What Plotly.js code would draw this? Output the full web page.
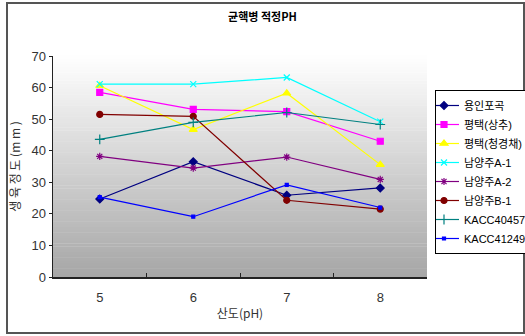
<!DOCTYPE html>
<html>
<head>
<meta charset="utf-8">
<script src="https://cdn.plot.ly/plotly-3.0.1.min.js"></script>
<style>
  html, body { margin: 0; padding: 0; background: #fff; }
  #chart { width: 525px; height: 336px; }
</style>
</head>
<body>
<div id="chart"></div>
<script>
// ---- data ----
const phLevels = ['5', '6', '7', '8'];
const seriesNames = ['용인포곡', '평택(상추)', '평택(청경채)', '남양주A-1', '남양주A-2', '남양주B-1', 'KACC40457', 'KACC41249'];
const yonginPogok   = [24.7, 36.5, 25.9, 28.2];
const pyeongtaekLettuce = [58.5, 53.1, 52.4, 43.0];
const pyeongtaekBokChoy = [60.6, 46.7, 58.2, 35.6];
const namyangjuA1   = [61.1, 61.1, 63.2, 49.2];
const namyangjuA2   = [38.2, 34.5, 38.0, 30.9];
const namyangjuB1   = [51.5, 50.9, 24.3, 21.5];
const kacc40457     = [43.6, 49.0, 52.1, 48.3];
const kacc41249     = [25.3, 19.1, 29.2, 22.0];
const seriesValues = [yonginPogok, pyeongtaekLettuce, pyeongtaekBokChoy, namyangjuA1, namyangjuA2, namyangjuB1, kacc40457, kacc41249];

// ---- styles ----
const styles = [
  {color: '#000080', symbol: 'diamond', size: 6},
  {color: '#ff00ff', symbol: 'square', size: 6},
  {color: '#ffff00', symbol: 'triangle-up', size: 7},
  {color: '#00ffff', symbol: 'x-thin-open', size: 6},
  {color: '#800080', symbol: 'asterisk-open', size: 6},
  {color: '#800000', symbol: 'circle', size: 6},
  {color: '#008080', symbol: 'cross-thin-open', size: 7},
  {color: '#0000ff', symbol: 'square', size: 3}
];

const traces = seriesNames.map((name, i) => ({
  type: 'scatter',
  mode: 'lines+markers',
  name: name,
  x: phLevels,
  y: seriesValues[i],
  line: {color: styles[i].color, width: 1.2},
  marker: {color: styles[i].color, symbol: styles[i].symbol, size: styles[i].size,
           line: {color: styles[i].color, width: 1.2}}
}));

// gradient background (white -> gray) inside plot area
const shapes = [];
const bands = 80;
for (let k = 0; k < bands; k++) {
  const t = (k + 0.5) / bands; // 0 bottom -> 1 top
  const v = Math.round(166 + (255 - 166) * t);
  shapes.push({type: 'rect', xref: 'paper', yref: 'paper', layer: 'below',
    x0: 0, x1: 1, y0: k / bands, y1: (k + 1) / bands + 0.002,
    line: {width: 0}, fillcolor: `rgb(${v},${v},${v})`});
}
// outer frame
shapes.push({type: 'rect', xref: 'paper', yref: 'paper', layer: 'above',
  x0: (7 - 53) / 374, x1: (524 - 53) / 374, y0: (277 - 333) / 221, y1: (277 - 3) / 221,
  line: {color: '#555', width: 2}, fillcolor: 'rgba(0,0,0,0)'});

const baseFont = "'Liberation Sans', 'Noto Sans CJK KR', sans-serif";

const layout = {
  width: 525, height: 336,
  margin: {l: 53, r: 98, t: 56, b: 59, autoexpand: false},
  paper_bgcolor: '#ffffff',
  plot_bgcolor: '#ffffff',
  font: {family: baseFont, color: '#333', size: 12},
  title: {text: '<b>균핵병 적정PH</b>', x: 0.5, xanchor: 'center', y: 0.95, yanchor: 'middle',
          font: {family: "'Noto Sans CJK KR', sans-serif", size: 11, color: '#000'}},
  showlegend: true,
  legend: {x: (435 - 53) / 374, xanchor: 'left', y: 1 - (90 - 56) / 221, yanchor: 'top',
           bgcolor: '#ffffff', bordercolor: '#000', borderwidth: 1,
           font: {family: baseFont, size: 11, color: '#000'},
           indentation: -12, itemwidth: 30, tracegroupgap: 0},
  xaxis: {type: 'category', range: [-0.5, 3.5], tickson: 'boundaries',
          ticks: 'inside', ticklen: 4, tickcolor: '#222',
          showline: true, linecolor: '#222', linewidth: 1.5, mirror: false,
          showgrid: false, zeroline: false,
          ticklabelstandoff: 8,
          tickfont: {size: 13, color: '#333'},
          title: {text: '산도(pH)', standoff: 5, font: {family: "'Noto Sans CJK KR', sans-serif", size: 12, color: '#333'}}},
  yaxis: {range: [0, 70], dtick: 10, ticks: 'outside', ticklen: 3, tickcolor: '#222',
          showline: true, linecolor: '#222', linewidth: 1.5,
          showgrid: false, zeroline: false,
          tickfont: {size: 13, color: '#333'},
          title: {text: '생 육 정 도 (m m )', standoff: 8, font: {family: "'Noto Sans CJK KR', sans-serif", size: 12, color: '#333'}}},
  shapes: shapes
};

Plotly.newPlot('chart', traces, layout, {staticPlot: true, displayModeBar: false});
</script>
</body>
</html>
